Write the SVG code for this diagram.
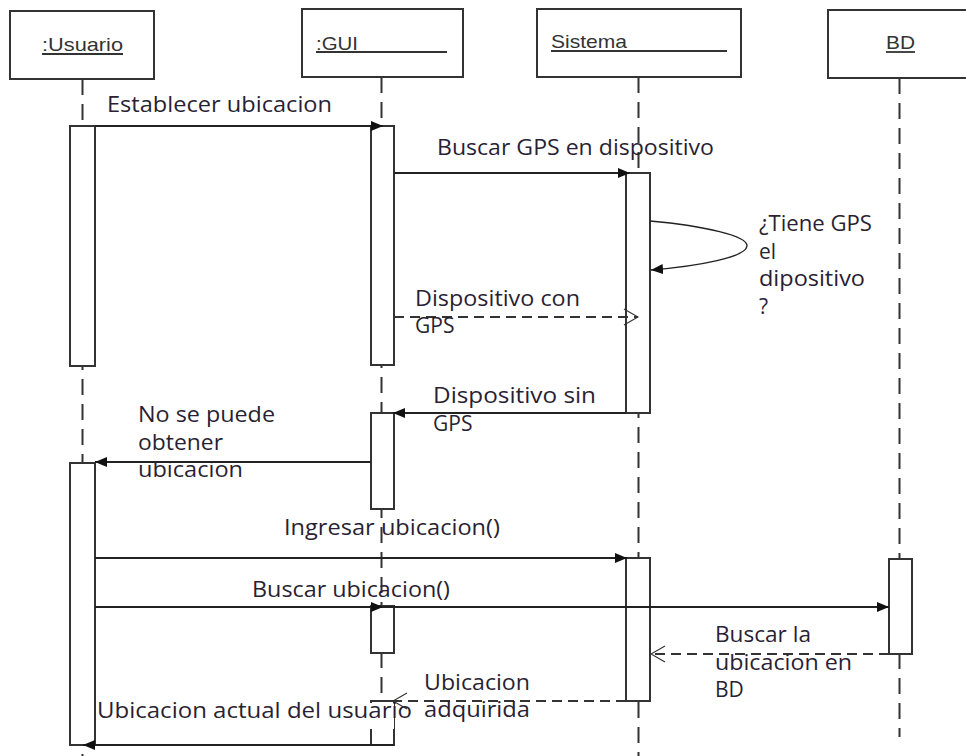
<svg xmlns="http://www.w3.org/2000/svg" width="966" height="756" viewBox="0 0 966 756">
  <style>
    .head { fill: #fff; stroke: #333; stroke-width: 2; }
    .hname { font-family: "Liberation Sans", Arial, sans-serif; font-size: 19px; fill: #333; }
    .uline { stroke: #333; stroke-width: 1.8; }
    .life { stroke: #333; stroke-width: 2; stroke-dasharray: 16 9; fill: none; }
    .act { fill: #fff; stroke: #333; stroke-width: 2; }
    .msg { stroke: #222; stroke-width: 1.8; fill: none; }
    .ret { stroke: #333; stroke-width: 1.8; fill: none; stroke-dasharray: 10 6; }
    .self { stroke: #222; stroke-width: 1.4; fill: none; }
    .lbl { font-family: "Open Sans", "Noto Sans", sans-serif; font-size: 21px; fill: #2a1f33; }
  </style>
  <defs>
    <marker id="solid" markerUnits="userSpaceOnUse" markerWidth="13" markerHeight="11" refX="12" refY="5.5" orient="auto">
      <path d="M0,0.5 L12,5.5 L0,10.5 z" fill="#111"/>
    </marker>
    <marker id="open" markerUnits="userSpaceOnUse" markerWidth="16" markerHeight="20" refX="15" refY="10" orient="auto">
      <path d="M1,2 L15,10 L1,18" fill="none" stroke="#333" stroke-width="1.2"/>
    </marker>
  </defs>

  <!-- lifelines -->
  <g id="lifelines">
    <line class="life" x1="82.5" y1="79" x2="82.5" y2="756"/>
    <line class="life" x1="381.5" y1="77" x2="381.5" y2="745"/>
    <line class="life" x1="638.5" y1="77" x2="638.5" y2="756"/>
    <line class="life" x1="899.5" y1="78" x2="899.5" y2="737"/>
  </g>

  <!-- participants -->
  <g id="usuario">
    <rect class="head" x="10" y="11" width="144" height="68"/>
    <text class="hname" x="42" y="51" textLength="81" lengthAdjust="spacingAndGlyphs">:Usuario</text>
    <line class="uline" x1="42" y1="54" x2="123" y2="54"/>
  </g>
  <g id="gui">
    <rect class="head" x="302" y="9" width="161" height="68"/>
    <text class="hname" x="316" y="50" textLength="42" lengthAdjust="spacingAndGlyphs">:GUI</text>
    <line class="uline" x1="316" y1="52" x2="447" y2="52"/>
  </g>
  <g id="sistema">
    <rect class="head" x="537" y="9" width="204" height="68"/>
    <text class="hname" x="551" y="48" textLength="76" lengthAdjust="spacingAndGlyphs">Sistema</text>
    <line class="uline" x1="551" y1="51" x2="727" y2="51"/>
  </g>
  <g id="bd">
    <rect class="head" x="828" y="10" width="150" height="68"/>
    <text class="hname" x="886" y="49" textLength="29" lengthAdjust="spacingAndGlyphs">BD</text>
    <line class="uline" x1="886" y1="52" x2="915" y2="52"/>
  </g>

  <!-- activation bars -->
  <g id="activations">
    <rect class="act" x="70" y="126" width="25" height="240"/>
    <rect class="act" x="371" y="126" width="23" height="239"/>
    <rect class="act" x="626" y="173" width="24" height="240"/>
    <rect class="act" x="371" y="413" width="23" height="96"/>
    <rect class="act" x="70" y="463" width="25" height="282"/>
    <rect class="act" x="626" y="558" width="24" height="143"/>
    <rect class="act" x="371" y="606" width="23" height="47"/>
    <rect class="act" x="889" y="559" width="23" height="95"/>
    <rect class="act" x="371" y="701" width="23" height="44"/>
  </g>

  <!-- messages -->
  <g id="connectors">
    <line class="msg" x1="95" y1="126" x2="383" y2="126" marker-end="url(#solid)"/>
    <line class="msg" x1="394" y1="173" x2="630" y2="173" marker-end="url(#solid)"/>
    <path class="self" d="M650,221 C705,226 748,236 747,246 C746,257 700,266 651,270" marker-end="url(#solid)"/>
    <line class="ret" x1="394" y1="317" x2="638" y2="317" marker-end="url(#open)"/>
    <line class="msg" x1="626" y1="413" x2="393" y2="413" marker-end="url(#solid)"/>
    <line class="msg" x1="371" y1="462" x2="95" y2="462" marker-end="url(#solid)"/>
    <line class="msg" x1="95" y1="558" x2="627" y2="558" marker-end="url(#solid)"/>
    <line class="msg" x1="95" y1="607" x2="383" y2="607" marker-end="url(#solid)"/>
    <line class="msg" x1="383" y1="607" x2="889" y2="607" marker-end="url(#solid)"/>
    <line class="ret" x1="889" y1="654" x2="651" y2="654" marker-end="url(#open)"/>
    <line class="ret" x1="626" y1="701" x2="393" y2="701" marker-end="url(#open)"/>
    <line class="msg" x1="394" y1="745" x2="83" y2="745" marker-end="url(#solid)"/>
  </g>

  <!-- message labels -->
  <g id="labels">
    <text class="lbl" x="107" y="112" textLength="225" lengthAdjust="spacingAndGlyphs">Establecer ubicacion</text>
    <text class="lbl" x="437" y="155" textLength="277" lengthAdjust="spacingAndGlyphs">Buscar GPS en dispositivo</text>
    <text class="lbl" x="759" y="231" textLength="113" lengthAdjust="spacingAndGlyphs">¿Tiene GPS</text>
    <text class="lbl" x="759" y="258.5">el</text>
    <text class="lbl" x="759" y="286" textLength="106" lengthAdjust="spacingAndGlyphs">dipositivo</text>
    <text class="lbl" x="759" y="313.5">?</text>
    <text class="lbl" x="415" y="306" textLength="165" lengthAdjust="spacingAndGlyphs">Dispositivo con</text>
    <text class="lbl" x="415" y="333">GPS</text>
    <text class="lbl" x="433" y="403" textLength="163" lengthAdjust="spacingAndGlyphs">Dispositivo sin</text>
    <text class="lbl" x="433" y="431">GPS</text>
    <text class="lbl" x="138" y="422" textLength="137" lengthAdjust="spacingAndGlyphs">No se puede</text>
    <text class="lbl" x="138" y="450" textLength="85" lengthAdjust="spacingAndGlyphs">obtener</text>
    <text class="lbl" x="138" y="477" textLength="105" lengthAdjust="spacingAndGlyphs">ubicacion</text>
    <text class="lbl" x="284" y="535" textLength="216" lengthAdjust="spacingAndGlyphs">Ingresar ubicacion()</text>
    <text class="lbl" x="252" y="597" textLength="198" lengthAdjust="spacingAndGlyphs">Buscar ubicacion()</text>
    <text class="lbl" x="715" y="642" textLength="96" lengthAdjust="spacingAndGlyphs">Buscar la</text>
    <text class="lbl" x="715" y="670" textLength="137" lengthAdjust="spacingAndGlyphs">ubicacion en</text>
    <text class="lbl" x="715" y="697">BD</text>
    <text class="lbl" x="424" y="690" textLength="106" lengthAdjust="spacingAndGlyphs">Ubicacion</text>
    <text class="lbl" x="424" y="717" textLength="106" lengthAdjust="spacingAndGlyphs">adquirida</text>
    <rect x="96" y="703" width="298" height="26" fill="#fff"/>
    <text class="lbl" x="97" y="718" textLength="315" lengthAdjust="spacingAndGlyphs">Ubicacion actual del usuario</text>
  </g>
</svg>
